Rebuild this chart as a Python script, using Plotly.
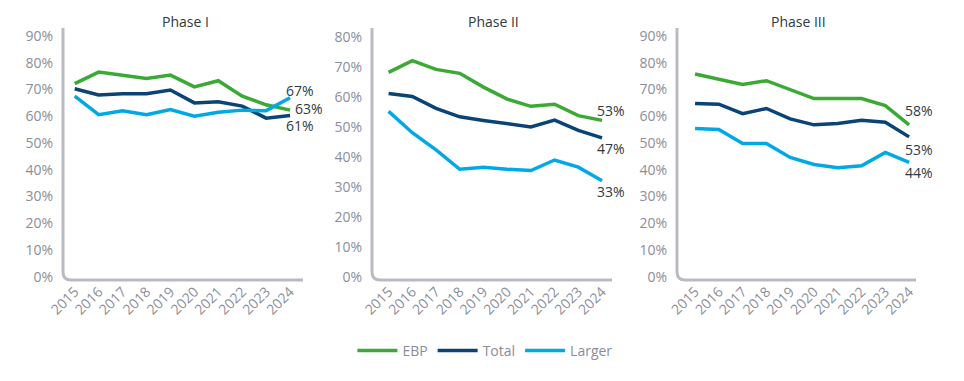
import plotly.graph_objects as go

years = ["2015", "2016", "2017", "2018", "2019", "2020", "2021", "2022", "2023", "2024"]
phases = ["Phase I", "Phase II", "Phase III"]
series_names = ["EBP", "Total", "Larger"]

ebp_p1 = [72.2, 76.5, 75.3, 74.1, 75.4, 71.0, 73.3, 67.5, 64.3, 62.3]
total_p1 = [70.3, 68.0, 68.4, 68.4, 69.8, 65.0, 65.4, 63.8, 59.3, 60.3]
larger_p1 = [67.5, 60.6, 62.1, 60.6, 62.5, 60.0, 61.5, 62.3, 62.1, 66.9]

ebp_p2 = [68.2, 72.1, 69.2, 67.9, 63.3, 59.3, 56.9, 57.6, 53.8, 52.2]
total_p2 = [61.2, 60.2, 56.2, 53.4, 52.2, 51.2, 50.0, 52.3, 48.9, 46.4]
larger_p2 = [55.2, 48.1, 42.4, 35.9, 36.6, 35.9, 35.5, 39.0, 36.6, 32.1]

ebp_p3 = [75.8, 74.0, 71.9, 73.3, 70.0, 66.6, 66.6, 66.6, 64.0, 56.8]
total_p3 = [64.8, 64.5, 61.0, 62.9, 59.0, 56.8, 57.3, 58.5, 57.8, 52.3]
larger_p3 = [55.4, 55.1, 49.8, 49.8, 44.6, 42.0, 40.8, 41.5, 46.5, 42.8]

end_labels_p1 = ["63%", "61%", "67%"]
end_labels_p2 = ["53%", "47%", "33%"]
end_labels_p3 = ["58%", "53%", "44%"]

colors = {"EBP": "#3aaa35", "Total": "#0a4477", "Larger": "#00a9e6"}

data = [
    [ebp_p1, total_p1, larger_p1],
    [ebp_p2, total_p2, larger_p2],
    [ebp_p3, total_p3, larger_p3],
]
labels = [end_labels_p1, end_labels_p2, end_labels_p3]

# layout settings (pixel-based domains on a 964x381 canvas)
W, H = 964, 381
x_domains = [(63, 303), (372, 612), (677, 916)]
x_ranges = [(-0.49, 9.54), (-0.7, 9.42), (-0.76, 9.29)]
y_ranges = [(-1.2, 93), (-1.0, 83), (-1.2, 93)]
y_top, y_bottom = 28, 280
# label offsets (xshift, yshift) per panel per series
label_offsets = [
    [(19, 2), (10, -10), (10, 7)],
    [(9, 10), (9, -11), (9, -11)],
    [(10, 14), (10, -13), (10, -10)],
]

FONT = "Open Sans"
tick_color = "#8a8e9b"
axis_color = "#b9bac3"
text_color = "#2e3a44"

fig = go.Figure()
annotations = []
shapes = []

for p in range(3):
    xa = "x" if p == 0 else f"x{p+1}"
    ya = "y" if p == 0 else f"y{p+1}"
    for s, name in enumerate(series_names):
        fig.add_trace(go.Scatter(
            x=years, y=data[p][s], mode="lines", name=name,
            line=dict(color=colors[name], width=3.5),
            xaxis=xa, yaxis=ya, showlegend=(p == 0),
            hoverinfo="skip",
        ))
        dx, dy = label_offsets[p][s]
        annotations.append(dict(
            x=len(years) - 1, y=data[p][s][-1], xref=xa, yref=ya,
            text=labels[p][s], showarrow=False, xanchor="center", yanchor="middle",
            xshift=dx, yshift=dy, font=dict(family=FONT, size=14, color=text_color),
        ))
    x0, x1 = x_domains[p]
    axis_kw = dict(domain=[x0 / W, x1 / W], range=list(x_ranges[p]), type="category",
                   showgrid=False, zeroline=False, showline=False, automargin=False,
                   tickangle=-45, tickfont=dict(family=FONT, size=14, color=tick_color),
                   ticks="", anchor=ya)
    yaxis_kw = dict(domain=[1 - y_bottom / H, 1 - y_top / H], range=list(y_ranges[p]),
                    dtick=10, tick0=0, ticksuffix="%", showgrid=False, zeroline=False,
                    showline=False, ticks="", ticklabelstandoff=9, automargin=False,
                    tickfont=dict(family=FONT, size=14, color=tick_color), anchor=xa)
    key = "" if p == 0 else str(p + 1)
    fig.update_layout(**{f"xaxis{key}": axis_kw, f"yaxis{key}": yaxis_kw})
    # axis lines with rounded corner
    rx, ry = 8 / (x1 - x0), 8 / (y_bottom - y_top)
    shapes.append(dict(
        type="path", xref=f"{xa} domain", yref=f"{ya} domain",
        path=f"M 0,1 L 0,{ry} Q 0,0 {rx},0 L 1,0",
        line=dict(color=axis_color, width=3), layer="below",
    ))
    annotations.append(dict(
        x=((x0 + x1) / 2 + 2) / W, y=1 - 22 / H, xref="paper", yref="paper",
        text=phases[p], showarrow=False, xanchor="center", yanchor="middle",
        font=dict(family=FONT, size=14, color=text_color),
    ))

fig.update_layout(
    width=W, height=H,
    margin=dict(l=0, r=0, t=0, b=0),
    paper_bgcolor="white", plot_bgcolor="white",
    annotations=annotations, shapes=shapes,
    legend=dict(orientation="h", x=0.503, xanchor="center", y=1 - 351 / H, yanchor="middle",
                font=dict(family=FONT, size=14, color=tick_color), itemwidth=40,
                tracegroupgap=0),
    font=dict(family=FONT),
)

fig.write_html("out.html", config={"displayModeBar": False},
               post_script="document.body.style.margin='0';document.body.style.overflow='hidden';")
